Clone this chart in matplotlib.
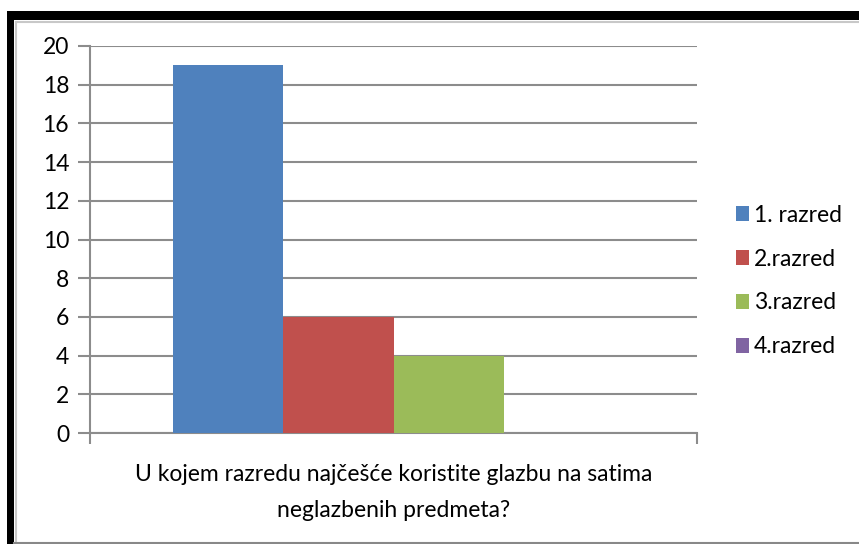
import matplotlib
matplotlib.use("Agg")
import matplotlib.pyplot as plt
from matplotlib.patches import Rectangle, Patch
import numpy as np

plt.rcParams['font.family'] = ['Lato', 'DejaVu Sans']

series = ["1. razred", "2.razred", "3.razred", "4.razred"]
values = [19, 6, 4, 0]
colors = ["#4F81BD", "#C0504D", "#9BBB59", "#8064A2"]
yticks = [0, 2, 4, 6, 8, 10, 12, 14, 16, 18, 20]
xlabel = "U kojem razredu najčešće koristite glazbu na satima\nneglazbenih predmeta?"

FS = 16.5
W, H = 859, 544
fig = plt.figure(figsize=(W / 100, H / 100), dpi=100)

# frame decorations
fig.patches.append(Rectangle((7 / W, 1 - 20 / H), 1, 9 / H, transform=fig.transFigure,
                             facecolor="black", edgecolor="none", zorder=0))
fig.patches.append(Rectangle((7 / W, 0), 7 / W, 1 - 11 / H, transform=fig.transFigure,
                             facecolor="black", edgecolor="none", zorder=0))
fig.lines.append(plt.Line2D([16 / W, 1], [1 - 22 / H, 1 - 22 / H], transform=fig.transFigure,
                            color="#c8c8c8", lw=1.5))
fig.lines.append(plt.Line2D([16 / W, 16 / W], [0, 1 - 22 / H], transform=fig.transFigure,
                            color="#c8c8c8", lw=1.5))
fig.lines.append(plt.Line2D([14 / W, 1], [1 / H, 1 / H], transform=fig.transFigure,
                            color="#888888", lw=1.5))

ax = fig.add_axes([90 / W, 1 - 433 / H, (697 - 90) / W, (433 - 46) / H])
group = 0.725
bw = group / len(series)
for i, (s, v, c) in enumerate(zip(series, values, colors)):
    x = -group / 2 + bw * (i + 0.5)
    ax.bar(x, v, width=bw, color=c, label=s, zorder=3)

ax.set_xlim(-0.5, 0.5)
ax.set_ylim(0, 20)
ax.set_yticks(yticks)
ax.set_yticklabels([str(t) for t in yticks], fontsize=FS, color="black")
ax.yaxis.grid(True, color="#8c8c8c", lw=1.5, zorder=0)
ax.tick_params(axis="y", length=9, width=1.5, color="#8c8c8c", pad=6)
ax.set_xticks([-0.5, 0.5])
ax.set_xticklabels(["", ""])
ax.tick_params(axis="x", length=8, width=1.5, color="#8c8c8c")
for sp in ["top", "right"]:
    ax.spines[sp].set_visible(False)
ax.spines["left"].set_color("#8c8c8c")
ax.spines["left"].set_linewidth(1.5)
ax.spines["bottom"].set_color("#8c8c8c")
ax.spines["bottom"].set_linewidth(1.5)
ax.set_xlabel(xlabel, fontsize=FS, linespacing=1.85, labelpad=11)

handles = [Patch(facecolor=c, edgecolor="none") for c in colors]
fig.legend(handles, series, loc="center left", bbox_to_anchor=(715 / W, 1 - 281 / H),
           frameon=False, fontsize=FS, handlelength=0.6, handleheight=0.6,
           handletextpad=0.2, labelspacing=1.0)

fig.savefig("out.png", dpi=100)
